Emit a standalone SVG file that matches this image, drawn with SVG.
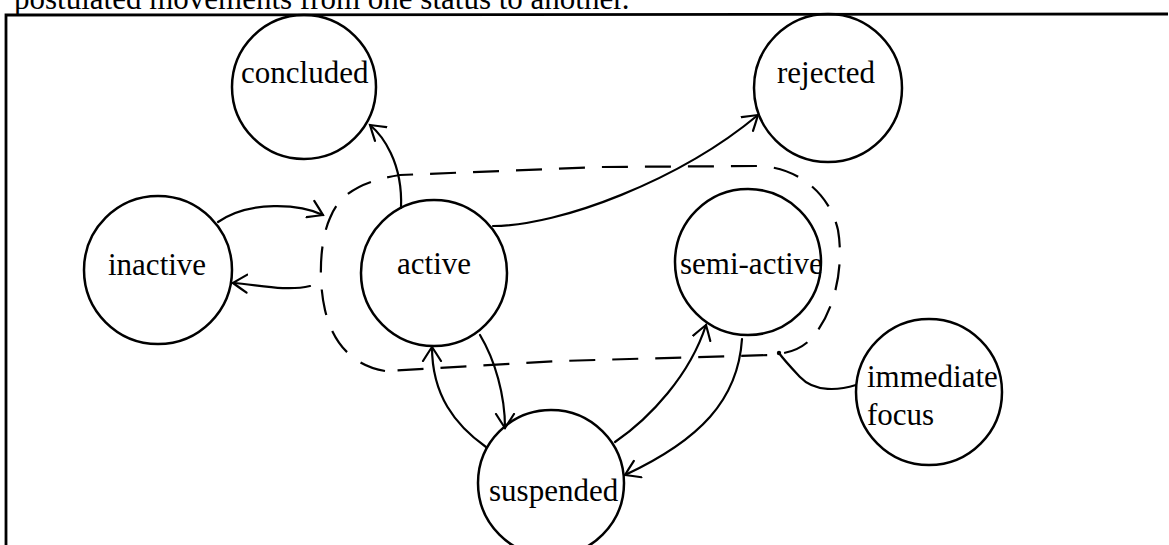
<svg xmlns="http://www.w3.org/2000/svg" width="1169" height="545" viewBox="0 0 1169 545">
  <style>
    .frame { stroke: #000; stroke-width: 2.8; fill: none; }
    .node circle { fill: none; stroke: #000; stroke-width: 2.5; }
    .lbl { font-family: "Liberation Serif", "Times New Roman", serif; font-size: 31px; fill: #000; }
    .conn { fill: none; stroke: #000; stroke-width: 2.2; stroke-linecap: round; }
    .group-outline { fill: none; stroke: #000; stroke-width: 2.2; stroke-dasharray: 26 17; }
  </style>
  <defs>
    <marker id="arrow" markerUnits="userSpaceOnUse" markerWidth="30" markerHeight="30" refX="0" refY="0" viewBox="-15 -15 30 30" orient="auto">
      <path d="M-14,-9 Q-6,-4 0,0 Q-6,4 -14,9" fill="none" stroke="#000" stroke-width="2.2" stroke-linecap="round"/>
    </marker>
  </defs>

  <rect width="1169" height="545" fill="#fff"/>

  <!-- caption line above the frame -->
  <text class="lbl" x="14" y="9">postulated movements from one status to another.</text>

  <!-- frame -->
  <g id="frame">
    <path class="frame" d="M6,545 L6,15 L1168,14"/>
  </g>

  <!-- dashed outline grouping active and semi-active -->
  <g id="focus-group">
    <path class="group-outline" d="M385,371 C350,365 332,340 325,310 C318,280 320,240 330,218 C338,198 355,182 400,175 L600,167 L760,166 C800,168 830,195 838,230 C844,265 836,310 812,338 C800,350 790,353 770,355 L560,361 Z"/>
  </g>

  <!-- status nodes -->
  <g id="node-concluded" class="node">
    <circle cx="304" cy="87" r="72"/>
    <text class="lbl" x="241" y="83">concluded</text>
  </g>
  <g id="node-rejected" class="node">
    <circle cx="828" cy="88" r="74"/>
    <text class="lbl" x="777" y="83">rejected</text>
  </g>
  <g id="node-inactive" class="node">
    <circle cx="158" cy="270" r="74"/>
    <text class="lbl" x="108" y="275">inactive</text>
  </g>
  <g id="node-active" class="node">
    <circle cx="434" cy="273" r="73"/>
    <text class="lbl" x="397" y="274">active</text>
  </g>
  <g id="node-semi-active" class="node">
    <circle cx="748" cy="262" r="73"/>
    <text class="lbl" x="680" y="274">semi-active</text>
  </g>
  <g id="node-suspended" class="node">
    <circle cx="551" cy="483" r="73"/>
    <text class="lbl" x="489" y="501">suspended</text>
  </g>
  <g id="node-immediate-focus" class="node">
    <circle cx="929" cy="392" r="73"/>
    <text class="lbl" x="867" y="387">immediate</text>
    <text class="lbl" x="867" y="425">focus</text>
  </g>

  <!-- transitions -->
  <g id="connectors">
    <path class="conn" marker-end="url(#arrow)" d="M218,222 C250,200 300,204 323,215"/>
    <path class="conn" marker-end="url(#arrow)" d="M310,286 C285,292 255,284 233,283"/>
    <path class="conn" marker-end="url(#arrow)" d="M401,208 C403,162 382,135 370,125"/>
    <path class="conn" marker-end="url(#arrow)" d="M493,226 C560,226 680,180 758,115"/>
    <path class="conn" marker-end="url(#arrow)" d="M486,447 C455,425 432,395 432,347"/>
    <path class="conn" marker-end="url(#arrow)" d="M480,335 C495,360 505,395 505,428"/>
    <path class="conn" marker-end="url(#arrow)" d="M615,442 C650,418 690,375 706,325"/>
    <path class="conn" marker-end="url(#arrow)" d="M742,339 C738,400 700,440 625,475"/>
    <path class="conn" d="M856,385 C840,390 815,393 800,377 S784,360 779,353"/>
    <circle cx="779" cy="353" r="2.2" fill="#000"/>
  </g>
</svg>
